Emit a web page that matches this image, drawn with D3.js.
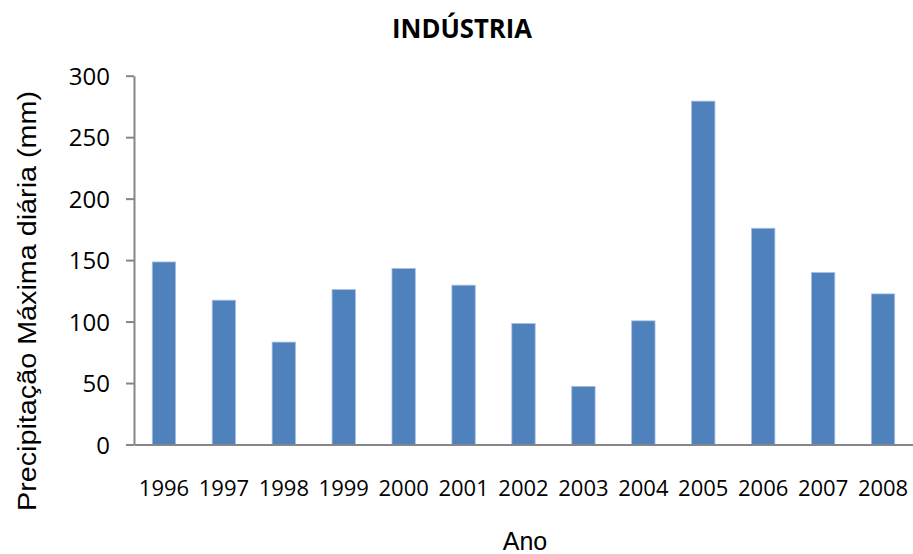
<!DOCTYPE html>
<html>
<head>
<meta charset="utf-8">
<script src="https://cdn.jsdelivr.net/npm/d3@7"></script>
<style>
  html, body { margin: 0; padding: 0; background: #fff; }
  svg { display: block; }
</style>
</head>
<body>
<div id="chart"></div>
<script>
// Annual maximum daily precipitation, Indústria station
const years = ["1996","1997","1998","1999","2000","2001","2002","2003","2004","2005","2006","2007","2008"];
const precipitation = [148.5, 117.4, 83.3, 126, 143.2, 129.6, 98.4, 47.3, 100.6, 279.3, 175.9, 139.9, 122.5];
const yTicks = [0, 50, 100, 150, 200, 250, 300];

const chartTitle = "INDÚSTRIA";
const xTitle = "Ano";
const yTitle = "Precipitação Máxima diária (mm)";

const width = 913, height = 554;
const margin = { top: 75.7, right: 0, bottom: 109.5, left: 134 };

const svg = d3.select("#chart").append("svg")
  .attr("width", width)
  .attr("height", height);

const x = d3.scaleBand()
  .domain(years)
  .range([margin.left, width - margin.right])
  .paddingInner(0.61)
  .paddingOuter(0.305);

const y = d3.scaleLinear()
  .domain([0, 300])
  .range([height - margin.bottom, margin.top]);

const axisColor = "#868686";

// Bars
svg.append("g")
  .selectAll("rect")
  .data(precipitation)
  .join("rect")
  .attr("x", (d, i) => x(years[i]))
  .attr("y", d => y(d))
  .attr("width", x.bandwidth())
  .attr("height", d => y(0) - y(d))
  .attr("fill", "#4F81BD")
  .attr("stroke", "#a9c0e0")
  .attr("stroke-width", 0.8);

// Y axis
const yAxis = svg.append("g")
  .attr("transform", `translate(${margin.left},0)`)
  .call(d3.axisLeft(y).tickValues(yTicks).tickSize(8).tickPadding(16).tickSizeOuter(0));
yAxis.select(".domain").attr("stroke", axisColor).attr("stroke-width", 2);
yAxis.selectAll(".tick line").attr("stroke", axisColor).attr("stroke-width", 2);
yAxis.selectAll(".tick text")
  .attr("fill", "#000")
  .style("font-family", "'Open Sans', sans-serif")
  .style("font-size", "24px")
  .attr("dy", "0.36em");

// X axis
const xAxis = svg.append("g")
  .attr("transform", `translate(0,${y(0)})`)
  .call(d3.axisBottom(x).tickSize(0).tickSizeOuter(0).tickPadding(51));
xAxis.select(".domain").attr("stroke", axisColor).attr("stroke-width", 2);
xAxis.selectAll(".tick text")
  .attr("fill", "#000")
  .attr("dy", "0")
  .style("font-family", "'Open Sans', sans-serif")
  .style("font-size", "22px");

// Title
svg.append("text")
  .attr("x", 462)
  .attr("y", 38)
  .attr("text-anchor", "middle")
  .attr("textLength", 140)
  .attr("lengthAdjust", "spacingAndGlyphs")
  .style("font-family", "'Open Sans', sans-serif")
  .style("font-weight", "bold")
  .style("font-size", "26px")
  .text(chartTitle);

// Axis titles
svg.append("text")
  .attr("x", 525)
  .attr("y", 550)
  .attr("text-anchor", "middle")
  .style("font-family", "'Liberation Sans', Arial, sans-serif")
  .style("font-size", "25px")
  .text(xTitle);

svg.append("text")
  .attr("transform", "translate(36,301) rotate(-90)")
  .attr("text-anchor", "middle")
  .attr("textLength", 420)
  .attr("lengthAdjust", "spacingAndGlyphs")
  .style("font-family", "'Liberation Sans', Arial, sans-serif")
  .style("font-size", "26px")
  .text(yTitle);
</script>
</body>
</html>
